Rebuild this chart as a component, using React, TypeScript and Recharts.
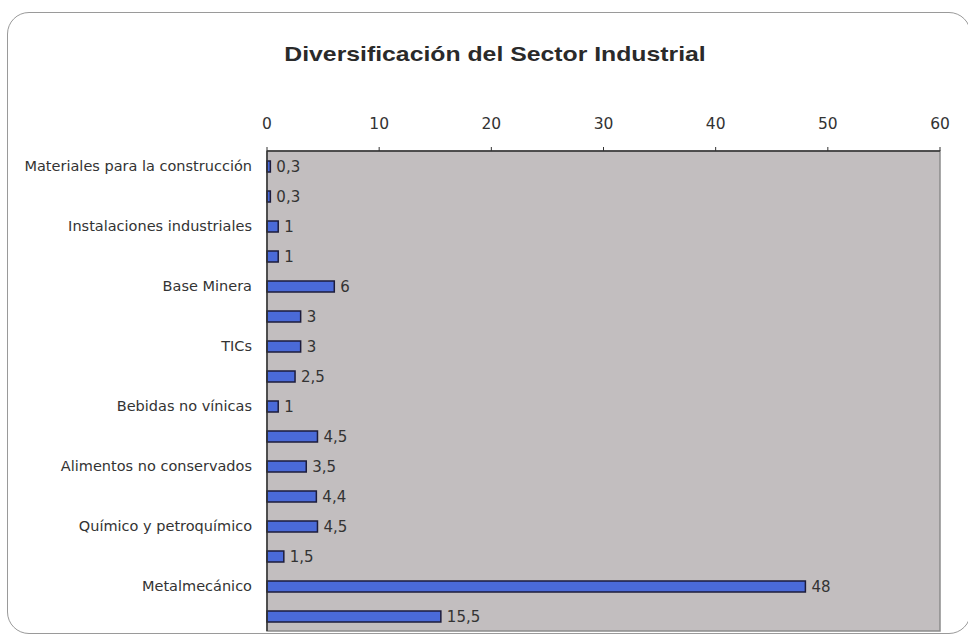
import React from "react";
import {
  BarChart,
  Bar,
  XAxis,
  YAxis,
  ReferenceArea,
  LabelList,
} from "recharts";

// only every second category is labelled in the original
const categories = [
  "Materiales para la construcción",
  "",
  "Instalaciones industriales",
  "",
  "Base Minera",
  "",
  "TICs",
  "",
  "Bebidas no vínicas",
  "",
  "Alimentos no conservados",
  "",
  "Químico y petroquímico",
  "",
  "Metalmecánico",
  "",
];

const values = [0.3, 0.3, 1, 1, 6, 3, 3, 2.5, 1, 4.5, 3.5, 4.4, 4.5, 1.5, 48, 15.5];

const xTicks = [0, 10, 20, 30, 40, 50, 60];

const data = categories.map((name, i) => ({ name, value: values[i] }));

const font = "'DejaVu Sans', 'Liberation Sans', Arial, sans-serif";

export default function App() {
  return (
    <div style={{ position: "absolute", left: 0, top: 0, width: 968, height: 635, overflow: "hidden", background: "#fff" }}>
      <div
        style={{
          position: "absolute",
          left: 7,
          top: 12,
          width: 962,
          height: 620,
          border: "1.5px solid #9a9a9a",
          borderRadius: 22,
        }}
      />
      <div
        style={{
          position: "absolute",
          left: 240,
          width: 510,
          top: 42,
          textAlign: "center",
          fontFamily: "'Liberation Sans', Arial, sans-serif",
          fontWeight: "bold",
          fontSize: 21,
          color: "#2a2a2a",
          transform: "scaleX(1.18)",
        }}
      >
        Diversificación del Sector Industrial
      </div>
      <div style={{ position: "absolute", left: 0, top: 0 }}>
        <BarChart
          width={968}
          height={635}
          data={data}
          layout="vertical"
          margin={{ top: 121, right: 28, bottom: 4, left: 17 }}
          barCategoryGap={0}
        >
          <XAxis
            type="number"
            orientation="top"
            domain={[0, 60]}
            ticks={xTicks}
            height={30}
            axisLine={{ stroke: "#333", strokeWidth: 1.5 }}
            tickLine={{ stroke: "#333" }}
            tickSize={4}
            tickMargin={18}
            tick={{ fill: "#333", fontSize: 15.5, fontFamily: font }}
          />
          <YAxis
            type="category"
            dataKey="name"
            width={250}
            interval={0}
            axisLine={{ stroke: "#333", strokeWidth: 1.5 }}
            tickLine={false}
            tick={{ fill: "#333", fontSize: 14.5, fontFamily: font }}
            tickMargin={9}
          />
          <ReferenceArea x1={0} x2={60} fill="#c2bebf" fillOpacity={1} stroke="#8c8c8c" strokeWidth={1.5} />
          <Bar
            dataKey="value"
            barSize={11}
            fill="#4a6ad8"
            stroke="#1c1c3c"
            strokeWidth={1.5}
            isAnimationActive={false}
          >
            <LabelList
              dataKey="value"
              position="right"
              offset={6}
              fill="#333"
              fontSize={15}
              fontFamily={font}
              formatter={(v: any) => String(v).replace(".", ",")}
            />
          </Bar>
        </BarChart>
      </div>
    </div>
  );
}
